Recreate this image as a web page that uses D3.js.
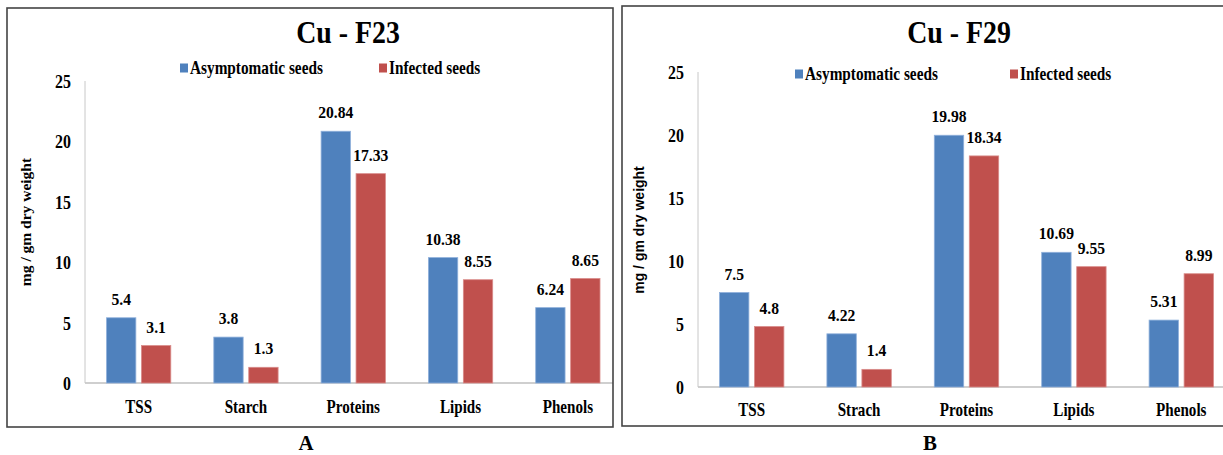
<!DOCTYPE html>
<html>
<head>
<meta charset="utf-8">
<script src="https://cdn.jsdelivr.net/npm/d3@7"></script>
<style>
  body { margin: 0; background: #fff; }
  svg { display: block; }
  text { font-family: "Liberation Serif", "Times New Roman", serif; font-weight: bold; fill: #000; }
</style>
</head>
<body>
<div id="chart"></div>
<script>
// data
const seriesNames = ["Asymptomatic seeds", "Infected seeds"];
const seriesColors = ["#4F81BD", "#C0504D"];
const categoriesA = ["TSS", "Starch", "Proteins", "Lipids", "Phenols"];
const asymptomaticA = [5.4, 3.8, 20.84, 10.38, 6.24];
const infectedA = [3.1, 1.3, 17.33, 8.55, 8.65];
const categoriesB = ["TSS", "Strach", "Proteins", "Lipids", "Phenols"];
const asymptomaticB = [7.5, 4.22, 19.98, 10.69, 5.31];
const infectedB = [4.8, 1.4, 18.34, 9.55, 8.99];
const yTicks = [0, 5, 10, 15, 20, 25];

const W = 1223, H = 455;

const svg = d3.select("#chart").append("svg")
    .attr("width", W)
    .attr("height", H);

// text in the source is a condensed bold serif, so squeeze it a bit
function txt(g, x, y, s, size, anchor, sx) {
  return g.append("text")
      .attr("transform", `translate(${x},${y}) scale(${sx || 0.86},1)`)
      .attr("text-anchor", anchor || "middle")
      .style("font-size", size + "px")
      .text(s);
}

function drawPanel(p) {
  let g = svg.append("g");

  // clip so the last band does not spill past the frame
  let clipId = "clip" + p.id;
  svg.append("clipPath").attr("id", clipId)
    .append("rect")
      .attr("x", p.box[0]).attr("y", p.box[1])
      .attr("width", p.box[2] - p.box[0]).attr("height", p.box[3] - p.box[1]);

  let plot = g.append("g").attr("clip-path", `url(#${clipId})`);

  let x0 = d3.scaleBand()
      .domain(p.categories)
      .range([p.left, p.left + p.step * p.categories.length]);
  let x1 = d3.scaleBand()
      .domain(seriesNames)
      .range([21.5, p.step - 21.5])
      .paddingInner(0.16);
  let y = d3.scaleLinear()
      .domain([0, 25])
      .range([p.bottom, p.top]);

  // axis lines
  plot.append("line")
      .attr("x1", p.left).attr("x2", p.left + p.step * 5)
      .attr("y1", y(0)).attr("y2", y(0))
      .attr("stroke", "#a0a0a0").attr("stroke-width", 1.2);
  plot.append("line")
      .attr("x1", p.left).attr("x2", p.left)
      .attr("y1", y(25)).attr("y2", y(0))
      .attr("stroke", "#c8c8c8").attr("stroke-width", 1);

  let rows = p.categories.map((c, i) => ({
    cat: c,
    vals: [p.asym[i], p.inf[i]]
  }));

  let groups = plot.selectAll(".cat")
      .data(rows)
      .enter().append("g")
      .attr("class", "cat")
      .attr("transform", d => `translate(${x0(d.cat)},0)`);

  groups.selectAll("rect")
      .data(d => d.vals.map((v, k) => ({ key: seriesNames[k], v: v, k: k })))
      .enter().append("rect")
      .attr("x", d => x1(d.key))
      .attr("y", d => y(d.v))
      .attr("width", x1.bandwidth())
      .attr("height", d => y(0) - y(d.v))
      .attr("fill", d => seriesColors[d.k])
      .attr("stroke", d => d.k === 0 ? "#8fb0db" : "#d98c8a")
      .attr("stroke-width", 0.8);

  groups.each(function (d) {
    let gg = d3.select(this);
    d.vals.forEach((v, k) => {
      txt(gg, x1(seriesNames[k]) + x1.bandwidth() / 2, y(v) - 13, String(v), 17, "middle", 0.92);
    });
    txt(gg, x0.bandwidth() / 2, p.catY, d.cat, 18, "middle", 0.84);
  });

  // y tick labels
  yTicks.forEach(t => {
    txt(g, p.left - 14, y(t) + 7, t, 18.5, "end", 0.86);
  });

  // y axis title
  g.append("text")
      .attr("transform", `translate(${p.ytitleX},${p.ytitleY}) rotate(-90)`)
      .attr("text-anchor", "middle")
      .style("font-family", p.ytitleFont)
      .style("font-size", p.ytitleSize + "px")
      .text("mg / gm dry weight");

  // title
  txt(g, p.titleX, 43, p.title, 32, "middle", 0.87);

  // legend
  p.legend.forEach((lx, k) => {
    g.append("rect")
        .attr("x", lx).attr("y", p.legendY - 4.5)
        .attr("width", 8).attr("height", 9)
        .attr("fill", seriesColors[k]);
    txt(g, lx + 10, p.legendY + 6, seriesNames[k], 18, "start", 0.85);
  });

  // frame
  g.append("rect")
      .attr("x", p.box[0]).attr("y", p.box[1])
      .attr("width", p.box[2] - p.box[0]).attr("height", p.box[3] - p.box[1])
      .attr("fill", "none")
      .attr("stroke", "#444").attr("stroke-width", 1.6);

  // panel letter
  txt(g, p.letterX, 450, p.letter, 22, "middle", 0.95);
}

drawPanel({
  id: "A", title: "Cu - F23", letter: "A", letterX: 306,
  categories: categoriesA, asym: asymptomaticA, inf: infectedA,
  box: [7, 8, 613, 427],
  left: 85, step: 107.3, top: 81, bottom: 383, catY: 413,
  titleX: 348, legend: [180, 379], legendY: 68,
  ytitleX: 31, ytitleY: 222, ytitleFont: "'Liberation Serif', serif", ytitleSize: 15.5
});

drawPanel({
  id: "B", title: "Cu - F29", letter: "B", letterX: 930,
  categories: categoriesB, asym: asymptomaticB, inf: infectedB,
  box: [622, 6, 1240, 426],
  left: 698, step: 107.4, top: 72, bottom: 387, catY: 416,
  titleX: 959, legend: [795, 1010], legendY: 74,
  ytitleX: 644, ytitleY: 230, ytitleFont: "'Liberation Sans', Arial, sans-serif", ytitleSize: 14
});
</script>
</body>
</html>
